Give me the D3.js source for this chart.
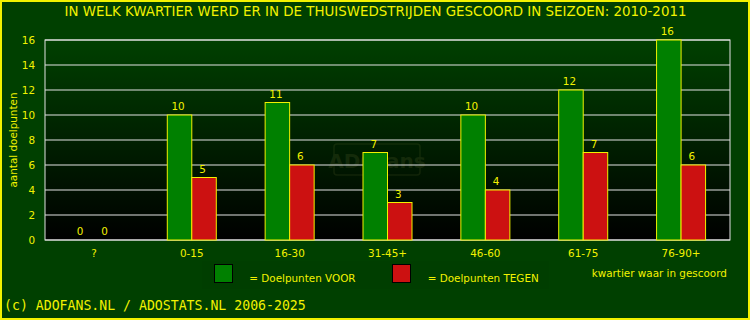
<!DOCTYPE html>
<html>
<head>
<meta charset="utf-8">
<script src="https://cdn.jsdelivr.net/npm/d3@7"></script>
<style>
  body { margin: 0; background: #004000; }
  svg { display: block; }
</style>
</head>
<body>
<div id="chart"></div>
<script>
// chart data
var categories = ["?", "0-15", "16-30", "31-45+", "46-60", "61-75", "76-90+"];
var voor = [0, 10, 11, 7, 10, 12, 16];
var tegen = [0, 5, 6, 3, 4, 7, 6];
var yTicks = [0, 2, 4, 6, 8, 10, 12, 14, 16];

var W = 750, H = 320;
var margin = {top: 40, right: 20, bottom: 80, left: 45},
    width = W - margin.left - margin.right,
    height = H - margin.top - margin.bottom;

var yellow = "#f2f200";
var small = "10.4px";

var svg = d3.select("#chart").append("svg")
    .attr("width", W)
    .attr("height", H)
    .style("font-family", "DejaVu Sans, sans-serif");

// background + yellow frame
svg.append("rect")
    .attr("x", 1).attr("y", 1)
    .attr("width", W - 2).attr("height", H - 2)
    .attr("fill", "#004000")
    .attr("stroke", yellow).attr("stroke-width", 2);

var defs = svg.append("defs");
var grad = defs.append("linearGradient")
    .attr("id", "plotbg").attr("x1", 0).attr("y1", 0).attr("x2", 0).attr("y2", 1);
grad.append("stop").attr("offset", "0%").attr("stop-color", "#004000");
grad.append("stop").attr("offset", "100%").attr("stop-color", "#000000");

// title
svg.append("text")
    .attr("x", W / 2 + 0.5).attr("y", 16)
    .attr("text-anchor", "middle")
    .attr("fill", yellow)
    .style("font-size", "13.4px")
    .text("IN WELK KWARTIER WERD ER IN DE THUISWEDSTRIJDEN GESCOORD IN SEIZOEN: 2010-2011");

var g = svg.append("g")
    .attr("transform", "translate(" + margin.left + "," + margin.top + ")");

// scales
var x = d3.scaleBand().domain(categories).range([0, width]).padding(0);
var y = d3.scaleLinear().domain([0, 16]).range([height, 0]);
var barW = 24.5;

g.append("rect")
    .attr("width", width).attr("height", height)
    .attr("fill", "url(#plotbg)");

// watermark
var wm = g.append("g").attr("opacity", 0.13);
wm.append("rect")
    .attr("x", 289).attr("y", 104).attr("width", 86).attr("height", 31)
    .attr("rx", 3)
    .attr("fill", "none").attr("stroke", "#8a8a40").attr("stroke-width", 1.5);
wm.append("text")
    .attr("x", 332).attr("y", 128)
    .attr("text-anchor", "middle")
    .attr("fill", "#9a9a50")
    .style("font-size", "20px").style("font-weight", "bold")
    .text("ADOfans");

// grid lines
g.selectAll(".grid")
    .data(yTicks)
    .enter().append("line")
    .attr("x1", 0).attr("x2", width)
    .attr("y1", function(d) { return y(d); })
    .attr("y2", function(d) { return y(d); })
    .attr("stroke", "#e2e2e2").attr("stroke-width", 1);

g.append("rect")
    .attr("width", width).attr("height", height)
    .attr("fill", "none").attr("stroke", "#e2e2e2").attr("stroke-width", 1);

// y axis
var yAxis = d3.axisLeft(y).tickValues(yTicks).tickSize(0).tickPadding(10);
var ya = g.append("g").call(yAxis);
ya.select(".domain").remove();
ya.selectAll("text").attr("fill", yellow).style("font-size", small)
    .style("font-family", "DejaVu Sans, sans-serif");

// x axis
var xAxis = d3.axisBottom(x).tickSize(0).tickPadding(10);
var xa = g.append("g").attr("transform", "translate(0," + height + ")").call(xAxis);
xa.select(".domain").remove();
xa.selectAll("text").attr("fill", yellow).style("font-size", small)
    .style("font-family", "DejaVu Sans, sans-serif");

// bars
function center(d, i) { return x(categories[i]) + x.bandwidth() / 2; }

g.selectAll(".voor")
    .data(voor)
    .enter().append("rect")
    .attr("x", function(d, i) { return center(d, i) - barW; })
    .attr("y", function(d) { return y(d); })
    .attr("width", barW)
    .attr("height", function(d) { return height - y(d); })
    .attr("fill", "#008000")
    .attr("stroke", function(d) { return d > 0 ? yellow : "none"; })
    .attr("stroke-width", 1);

g.selectAll(".tegen")
    .data(tegen)
    .enter().append("rect")
    .attr("x", function(d, i) { return center(d, i); })
    .attr("y", function(d) { return y(d); })
    .attr("width", barW)
    .attr("height", function(d) { return height - y(d); })
    .attr("fill", "#cc1111")
    .attr("stroke", function(d) { return d > 0 ? yellow : "none"; })
    .attr("stroke-width", 1);

// value labels
g.selectAll(".lv")
    .data(voor)
    .enter().append("text")
    .attr("x", function(d, i) { return center(d, i) - barW / 2 - 1.5; })
    .attr("y", function(d) { return y(d) - 5; })
    .attr("text-anchor", "middle")
    .attr("fill", yellow).style("font-size", small)
    .text(function(d) { return d; });

g.selectAll(".lt")
    .data(tegen)
    .enter().append("text")
    .attr("x", function(d, i) { return center(d, i) + barW / 2 - 1.5; })
    .attr("y", function(d) { return y(d) - 5; })
    .attr("text-anchor", "middle")
    .attr("fill", yellow).style("font-size", small)
    .text(function(d) { return d; });

// y axis title
svg.append("text")
    .attr("transform", "translate(16.5," + (margin.top + height / 2) + ") rotate(-90)")
    .attr("text-anchor", "middle")
    .attr("fill", yellow).style("font-size", small)
    .text("aantal doelpunten");

// legend
var lg = svg.append("g");
lg.append("rect").attr("x", 202).attr("y", 261).attr("width", 347).attr("height", 28)
    .attr("fill", "#003e00");
lg.append("rect").attr("x", 214.5).attr("y", 264.5).attr("width", 18).attr("height", 18)
    .attr("fill", "#008000").attr("stroke", "#000").attr("stroke-width", 1);
lg.append("text").attr("x", 249.3).attr("y", 282)
    .attr("fill", yellow).style("font-size", small).text("= Doelpunten VOOR");
lg.append("rect").attr("x", 392.5).attr("y", 264.5).attr("width", 18).attr("height", 18)
    .attr("fill", "#cc1111").attr("stroke", "#000").attr("stroke-width", 1);
lg.append("text").attr("x", 427.7).attr("y", 282)
    .attr("fill", yellow).style("font-size", small).text("= Doelpunten TEGEN");

svg.append("text").attr("x", 591.7).attr("y", 277)
    .attr("fill", yellow).style("font-size", small).text("kwartier waar in gescoord");

// footer
svg.append("text").attr("x", 4).attr("y", 310)
    .attr("fill", yellow)
    .style("font-family", "DejaVu Sans Mono, monospace").style("font-size", "13.2px")
    .text("(c) ADOFANS.NL / ADOSTATS.NL 2006-2025");
</script>
</body>
</html>
